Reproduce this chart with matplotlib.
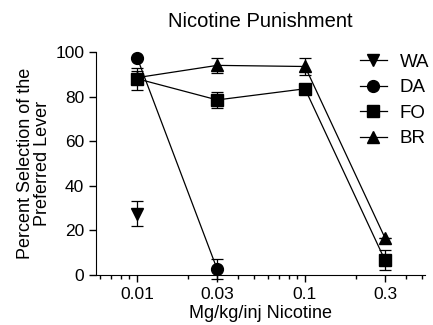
import numpy as np
import matplotlib.pyplot as plt
from matplotlib.lines import Line2D
from matplotlib.ticker import FixedLocator, LogLocator, NullFormatter

plt.rcParams['font.family'] = ['Liberation Sans', 'DejaVu Sans']

doses = [0.01, 0.03, 0.1, 0.3]
dose_labels = ['0.01', '0.03', '0.1', '0.3']

wa_x = [0.01]
wa_y = [27.5]
wa_err = [5.5]

da_x = [0.01, 0.03]
da_y = [97.5, 2.5]
da_err = [0, 4.5]

fo_x = [0.01, 0.03, 0.1, 0.3]
fo_y = [88.0, 78.5, 83.5, 6.5]
fo_err = [5.0, 3.5, 2.0, 4.5]

br_x = [0.01, 0.03, 0.1, 0.3]
br_y = [88.5, 94.0, 93.5, 16.5]
br_err = [3.0, 3.2, 4.0, 0]

names = ['WA', 'DA', 'FO', 'BR']
markers = ['v', 'o', 's', '^']

fig = plt.figure(figsize=(4.33, 3.25), dpi=100)
ax = fig.add_axes([0.222, 0.154, 0.76, 0.686])

kw = dict(color='black', lw=0.9, capsize=4, elinewidth=0.9, capthick=0.9,
          markersize=8.5, clip_on=False)
ax.errorbar(wa_x, wa_y, yerr=wa_err, marker='v', **kw)
ax.errorbar(da_x, da_y, yerr=da_err, marker='o', **kw)
ax.errorbar(fo_x, fo_y, yerr=fo_err, marker='s', **kw)
ax.errorbar(br_x, br_y, yerr=br_err, marker='^', **kw)

ax.set_xscale('log')
ax.set_xlim(0.0057, 0.52)
ax.set_ylim(0, 100)
ax.xaxis.set_major_locator(FixedLocator(doses))
ax.set_xticklabels(dose_labels)
ax.xaxis.set_minor_locator(LogLocator(base=10, subs=np.arange(2, 10)))
ax.xaxis.set_minor_formatter(NullFormatter())
ax.set_yticks([0, 20, 40, 60, 80, 100])

for s in ['top', 'right']:
    ax.spines[s].set_visible(False)
ax.tick_params(axis='both', which='major', direction='out', length=5,
               width=1, labelsize=12.5, colors='black')
ax.tick_params(axis='x', which='minor', direction='out', length=3, width=1)

ax.set_title('Nicotine Punishment', fontsize=14.5, pad=18)
ax.set_ylabel('Percent Selection of the\nPreferred Lever', fontsize=13,
              linespacing=1.0, labelpad=3)
ax.set_xlabel('Mg/kg/inj Nicotine', fontsize=13, labelpad=2)

handles = [Line2D([], [], color='black', lw=0.9, marker=m, markersize=8.5)
           for m in markers]
fig.legend(handles, names, loc='upper left', bbox_to_anchor=(0.832, 0.835),
           frameon=False, fontsize=13.5, handlelength=1.4, labelspacing=0.45,
           borderaxespad=0, borderpad=0, handletextpad=0.7)

fig.savefig('out.png', dpi=100)
